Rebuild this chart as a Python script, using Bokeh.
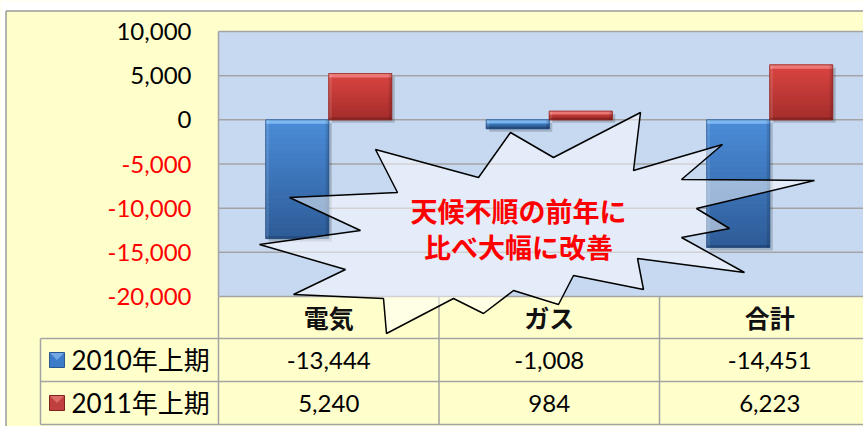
import numpy as np
from bokeh.plotting import figure
from bokeh.models import Range1d
from bokeh.core.properties import value
from bokeh.embed import file_html
from bokeh.resources import INLINE

# ---------------- data ----------------
categories = ["電気", "ガス", "合計"]
series_names = ["2010年上期", "2011年上期"]
values_2010 = [-13444, -1008, -14451]
values_2011 = [5240, 984, 6223]
y_ticks = [10000, 5000, 0, -5000, -10000, -15000, -20000]
callout_lines = ["天候不順の前年に", "比べ大幅に改善"]

# ---------------- layout constants ----------------
W, H = 863, 426
PLOT_LEFT_PX = 218
CELL_PX = 220.5
PLOT_TOP_PX, PLOT_BOTTOM_PX = 31, 296
Y_MAX, Y_MIN = 10000, -20000
PPU = (PLOT_BOTTOM_PX - PLOT_TOP_PX) / (Y_MAX - Y_MIN)  # px per value unit

x_lo = -PLOT_LEFT_PX / CELL_PX
x_hi = (W - PLOT_LEFT_PX) / CELL_PX
y_hi = Y_MAX + PLOT_TOP_PX / PPU
y_lo = Y_MIN - (H - PLOT_BOTTOM_PX) / PPU

FONT = value("Lato, 'Noto Sans CJK JP', sans-serif")
CJK = value("'Noto Sans CJK JP', sans-serif")
GRID = "#A3A3A3"
YELLOW = "#FFFFCC"

p = figure(width=W, height=H, x_range=Range1d(x_lo, x_hi), y_range=Range1d(y_lo, y_hi),
           output_backend="svg", toolbar_location=None, min_border=0,
           x_axis_location=None, y_axis_location=None)
p.grid.visible = False
p.outline_line_color = None
p.background_fill_color = YELLOW
p.border_fill_color = YELLOW
p.extra_x_ranges = {"px": Range1d(0, W)}
p.extra_y_ranges = {"px": Range1d(H, 0)}
PX = dict(x_range_name="px", y_range_name="px")

# outer frame pieces
p.quad(left=0, right=W, top=0, bottom=10.5, fill_color="white", line_color=None, **PX)
p.quad(left=0, right=5.5, top=0, bottom=H, fill_color="white", line_color=None, **PX)
p.segment(x0=5.5, x1=W, y0=10.5, y1=10.5, line_color="#9A9A9A", line_width=1.5, **PX)
p.segment(x0=5.5, x1=5.5, y0=10.5, y1=H, line_color="#9A9A9A", line_width=1.5, **PX)

# plot area
p.quad(left=0, right=x_hi, bottom=Y_MIN, top=Y_MAX, fill_color="#C6D9F1", line_color=None)
p.segment(x0=[0] * len(y_ticks), x1=[x_hi] * len(y_ticks), y0=y_ticks, y1=y_ticks,
          line_color=GRID, line_width=1.5)
p.segment(x0=0, x1=0, y0=Y_MIN, y1=Y_MAX, line_color=GRID, line_width=1.5)

# y tick labels
tick_labels = [f"{v:,}" for v in y_ticks]
tick_colors = ["#FF0000" if v < 0 else "#000000" for v in y_ticks]
p.text(x=[(191 - PLOT_LEFT_PX) / CELL_PX] * len(y_ticks), y=y_ticks, text=tick_labels,
       text_color=tick_colors, text_align="right", text_baseline="middle",
       text_font=FONT, text_font_size="24px")

# ---------------- bars ----------------
BAR_W = 63 / CELL_PX
centers = np.arange(len(categories)) + 0.5
series = [
    (np.array(values_2010, float), -BAR_W / 2,
     ("#4B8CD8", "#2E5C98", "#86C0F5", "#24487A")),
    (np.array(values_2011, float), BAR_W / 2,
     ("#DA4542", "#A52E2C", "#EE8280", "#7E2220")),
]

def mix(c1, c2, t):
    a = np.array([int(c1[i:i + 2], 16) for i in (1, 3, 5)])
    b = np.array([int(c2[i:i + 2], 16) for i in (1, 3, 5)])
    c = (a * (1 - t) + b * t).round().astype(int)
    return "#%02x%02x%02x" % tuple(c)

dx_sh = 3 / CELL_PX
dy_sh = 3 / PPU
for vals, off, (c_top, c_bot, c_hi, c_edge) in series:
    xs = centers + off
    tops = np.maximum(vals, 0)
    bots = np.minimum(vals, 0)
    # shadow
    p.quad(left=xs - BAR_W / 2 + dx_sh, right=xs + BAR_W / 2 + dx_sh,
           top=tops - dy_sh, bottom=bots - dy_sh, fill_color="black", fill_alpha=0.18,
           line_color=None)
    # base bar
    p.vbar(x=xs, width=BAR_W, top=tops, bottom=bots, fill_color=c_top, line_color=None)
    # vertical gradient
    n = 24
    L, R, T, B, C = [], [], [], [], []
    for x, t, b in zip(xs, tops, bots):
        edges = np.linspace(t, b, n + 1)
        for k in range(n):
            L.append(x - BAR_W / 2); R.append(x + BAR_W / 2)
            T.append(edges[k]); B.append(edges[k + 1])
            C.append(mix(c_top, c_bot, k / (n - 1)))
    p.quad(left=L, right=R, top=T, bottom=B, fill_color=C, line_color=C, line_width=0.6)
    # bevel: top highlight, side/bottom edges
    hi_h = np.minimum(4 / PPU, (tops - bots) * 0.4)
    p.quad(left=xs - BAR_W / 2, right=xs + BAR_W / 2, top=tops, bottom=tops - hi_h,
           fill_color=c_hi, fill_alpha=0.85, line_color=None)
    side = 3 / CELL_PX
    p.quad(left=xs - BAR_W / 2, right=xs - BAR_W / 2 + side, top=tops, bottom=bots,
           fill_color="white", fill_alpha=0.12, line_color=None)
    p.quad(left=xs + BAR_W / 2 - side, right=xs + BAR_W / 2, top=tops, bottom=bots,
           fill_color="black", fill_alpha=0.12, line_color=None)
    p.quad(left=xs - BAR_W / 2, right=xs + BAR_W / 2, top=bots + hi_h * 0.6, bottom=bots,
           fill_color="black", fill_alpha=0.18, line_color=None)
    p.vbar(x=xs, width=BAR_W, top=tops, bottom=bots, fill_alpha=0, line_color=c_edge,
           line_width=1, line_alpha=0.6)

# ---------------- data table ----------------
ROW_TOPS = [296, 338, 381, 424]
TABLE_LEFT = 40
ncat = len(categories)
col_x = list(range(ncat + 1))
# horizontal lines
p.segment(x0=[TABLE_LEFT] * 3, x1=[W] * 3, y0=ROW_TOPS[1:], y1=ROW_TOPS[1:],
          line_color=GRID, line_width=1.5, **PX)
# column lines (data x, px y)
p.segment(x0=col_x, x1=col_x, y0=[ROW_TOPS[0]] * len(col_x), y1=[ROW_TOPS[-1]] * len(col_x),
          line_color=GRID, line_width=1.5, y_range_name="px")
p.segment(x0=TABLE_LEFT, x1=TABLE_LEFT, y0=ROW_TOPS[1], y1=ROW_TOPS[-1],
          line_color=GRID, line_width=1.5, **PX)

row_mid = [(ROW_TOPS[i] + ROW_TOPS[i + 1]) / 2 for i in range(3)]
p.text(x=centers, y=[row_mid[0] - 1] * ncat, text=categories, text_align="center",
       text_baseline="middle", text_font=CJK, text_font_style="bold",
       text_font_size="25px", text_color="#111111", y_range_name="px")
for r, vals in enumerate([values_2010, values_2011]):
    p.text(x=centers, y=[row_mid[r + 1]] * ncat, text=[f"{v:,}" for v in vals],
           text_align="center", text_baseline="middle", text_font=FONT,
           text_font_size="24px", text_color="black", y_range_name="px")

# legend keys + series names
key_cols = [("#3C7BC8", "#7FB4EE", "#2A5790"), ("#C0403D", "#E47774", "#7E2220")]
for r, name in enumerate(series_names):
    cy = row_mid[r + 1]
    fc, hc, ec = key_cols[r]
    p.quad(left=49, right=64, top=cy - 7.5, bottom=cy + 7.5, fill_color=fc,
           line_color=ec, line_width=1, **PX)
    p.patch(x=[49.5, 63.5, 56.5], y=[cy - 7, cy - 7, cy], fill_color=hc, fill_alpha=0.8,
            line_color=None, **PX)
    p.text(x=[71], y=[cy], text=[name], text_align="left", text_baseline="middle",
           text_font=FONT, text_font_size="26px", text_color="black", **PX)

# ---------------- starburst callout ----------------
burst_x = [375, 478, 510, 553, 640, 633, 722, 681, 814, 696, 729, 681, 744, 637, 643,
           573, 558, 513, 483, 453, 386, 383, 293, 345, 259, 360, 289, 397]
burst_y = [149, 177, 132, 157, 112, 170, 144, 179, 180, 208, 228, 237, 272, 258, 289,
           275, 304, 290, 313, 298, 333, 298, 294, 269, 244, 230, 197, 192]
p.patch(x=burst_x, y=burst_y, fill_color="white", fill_alpha=0.5, line_color="black",
        line_width=1.5, **PX)
p.text(x=[518, 518], y=[210, 246], text=callout_lines, text_align="center",
       text_baseline="middle", text_font=CJK, text_font_style="bold",
       text_font_size="27px", text_color="#FF0000", **PX)

open("out.html", "w").write(file_html(p, INLINE))
